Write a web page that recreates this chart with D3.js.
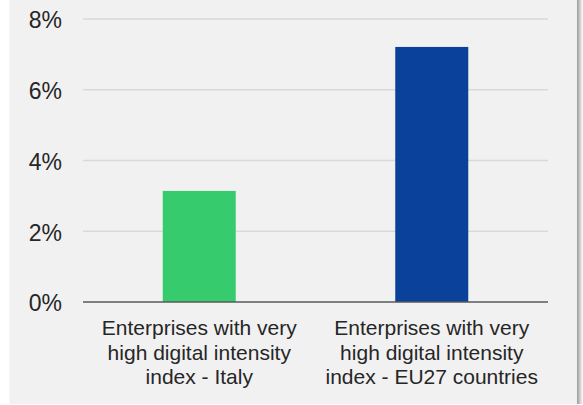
<!DOCTYPE html>
<html>
<head>
<meta charset="utf-8">
<script src="https://cdn.jsdelivr.net/npm/d3@7/dist/d3.min.js"></script>
<style>
  html, body { margin: 0; padding: 0; background: #ffffff; }
  svg { display: block; }
  text { font-family: "Liberation Sans", Arial, sans-serif; fill: #262626; }
</style>
</head>
<body>
<script>
// Share of enterprises with a very high digital intensity index
const categories = [
  ["Enterprises with very", "high digital intensity", "index - Italy"],
  ["Enterprises with very", "high digital intensity", "index - EU27 countries"]
];
const values = [3.14, 7.21];
const barColors = ["#36cc6e", "#0a419a"];
const yTicks = [0, 2, 4, 6, 8];
const yTickLabels = ["0%", "2%", "4%", "6%", "8%"];

const W = 583, H = 405;
const margin = { left: 83, right: 35, top: 19, bottom: 103 };

const svg = d3.select("body").append("svg")
  .attr("width", W).attr("height", H);

// Panel background with a soft shadow on its right edge
const defs = svg.append("defs");
const grad = defs.append("linearGradient").attr("id", "shade")
  .attr("x1", "0").attr("x2", "1").attr("y1", "0").attr("y2", "0");
grad.append("stop").attr("offset", "0").attr("stop-color", "#9a9a9a");
grad.append("stop").attr("offset", "1").attr("stop-color", "#ffffff");

svg.append("rect").attr("x", 9).attr("y", 0).attr("width", 568).attr("height", 404)
  .attr("fill", "#f1f1f1");
svg.append("rect").attr("x", 577).attr("y", 0).attr("width", 6).attr("height", 404)
  .attr("fill", "url(#shade)");
svg.append("rect").attr("x", 9).attr("y", 0).attr("width", 1).attr("height", 404)
  .attr("fill", "#f7f7f7");

const x = d3.scaleBand()
  .domain(d3.range(categories.length))
  .range([margin.left, W - margin.right])
  .paddingInner(0).paddingOuter(0);

const y = d3.scaleLinear()
  .domain([0, 8])
  .range([H - margin.bottom, margin.top]);

// Horizontal gridlines
svg.append("g")
  .selectAll("line")
  .data(yTicks.filter(d => d !== 0))
  .join("line")
  .attr("x1", margin.left).attr("x2", W - margin.right)
  .attr("y1", d => y(d)).attr("y2", d => y(d))
  .attr("stroke", "#d9d9d9").attr("stroke-width", 1.5);

// Y axis labels
const yAxis = d3.axisLeft(y)
  .tickValues(yTicks)
  .tickFormat((d, i) => yTickLabels[i])
  .tickSize(0)
  .tickPadding(21);
const gy = svg.append("g")
  .attr("transform", `translate(${margin.left},0)`)
  .call(yAxis);
gy.select(".domain").remove();
gy.selectAll("text")
  .attr("font-size", 23)
  .attr("font-family", "Liberation Sans, Arial, sans-serif")
  .attr("fill", "#262626")
  .attr("dy", "0.38em");

// Bars
const barW = x.bandwidth() * 0.314;
svg.append("g")
  .selectAll("rect")
  .data(values)
  .join("rect")
  .attr("x", (d, i) => x(i) + (x.bandwidth() - barW) / 2)
  .attr("width", barW)
  .attr("y", d => y(d))
  .attr("height", d => y(0) - y(d))
  .attr("fill", (d, i) => barColors[i]);

// Baseline
svg.append("line")
  .attr("x1", margin.left).attr("x2", W - margin.right)
  .attr("y1", y(0)).attr("y2", y(0))
  .attr("stroke", "#595959").attr("stroke-width", 1.5);

// Category labels
const labels = svg.append("g")
  .selectAll("text")
  .data(categories)
  .join("text")
  .attr("text-anchor", "middle")
  .attr("font-size", 21)
  .attr("x", (d, i) => x(i) + x.bandwidth() / 2)
  .attr("y", y(0) + 33);
labels.selectAll("tspan")
  .data(d => d)
  .join("tspan")
  .attr("x", function () { return d3.select(this.parentNode).attr("x"); })
  .attr("dy", (d, i) => i === 0 ? 0 : 24.5)
  .text(d => d);
</script>
</body>
</html>
